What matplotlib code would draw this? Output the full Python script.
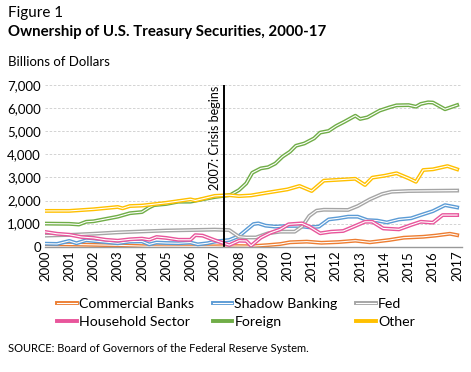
import matplotlib
matplotlib.use("Agg")
import matplotlib.pyplot as plt
import matplotlib.patheffects as pe
from matplotlib.lines import Line2D

plt.rcParams['font.family'] = ['Lato', 'DejaVu Sans']

# data (billions of dollars)
bank_x = [2000, 2001, 2002, 2003, 2004.3, 2005, 2006, 2007, 2007.6, 2008.5, 2009.2, 2009.7, 2010.1,
          2010.8, 2011.4, 2012.1, 2012.8, 2013.4, 2014.2, 2014.8, 2015.6, 2016.1, 2016.7, 2017]
bank_y = [110, 100, 80, 60, 15, 20, 15, 15, 30, 20, 70, 115, 190,
          220, 170, 200, 260, 190, 290, 390, 430, 480, 560, 500]

shadow_x = [2000, 2000.5, 2001, 2001.3, 2001.7, 2002, 2002.5, 2003, 2003.5, 2004, 2004.3, 2004.6,
            2005, 2005.5, 2006, 2006.3, 2006.7, 2007, 2007.6, 2008, 2008.6, 2008.8, 2009.1, 2009.5,
            2010, 2010.4, 2010.9, 2011.3, 2011.7, 2012.1, 2012.5, 2012.9, 2013.3, 2013.7, 2014.1,
            2014.6, 2015.1, 2015.5, 2016, 2016.5, 2017]
shadow_y = [130, 120, 250, 150, 280, 250, 200, 150, 220, 230, 100, 180,
            160, 150, 180, 100, 150, 220, 290, 460, 980, 1010, 910, 870,
            900, 900, 840, 870, 1180, 1230, 1300, 1300, 1150, 1130, 1050,
            1180, 1230, 1370, 1540, 1800, 1700]

fed_x = [2000, 2001, 2002, 2003, 2004, 2005, 2006, 2007, 2007.6, 2008, 2008.3, 2008.7, 2009.2,
         2009.7, 2010.3, 2010.6, 2010.9, 2011.2, 2011.5, 2012.5, 2012.9, 2013.4, 2013.9, 2014.3,
         2015, 2016, 2017]
fed_y = [480, 510, 560, 620, 660, 700, 720, 740, 720, 430, 400, 400, 580,
         650, 650, 870, 1330, 1560, 1600, 1590, 1760, 2050, 2280, 2380,
         2410, 2420, 2430]

house_x = [2000, 2000.5, 2001, 2001.5, 2002, 2002.5, 2003, 2003.5, 2004, 2004.3, 2004.6, 2005,
           2005.5, 2006, 2006.2, 2006.5, 2007, 2007.6, 2008, 2008.3, 2008.5, 2008.9, 2009.3,
           2009.7, 2010.05, 2010.6, 2010.9, 2011.35, 2011.8, 2012.3, 2012.8, 2013.2, 2013.5,
           2013.95, 2014.6, 2015.1, 2015.5, 2016, 2016.4, 2017]
house_y = [640, 560, 520, 420, 380, 300, 260, 320, 350, 300, 420, 380,
           300, 300, 500, 480, 280, 70, 260, 250, 40, 390, 600,
           750, 970, 1010, 870, 580, 650, 680, 900, 1080, 1080,
           790, 750, 940, 1080, 1040, 1370, 1370]

foreign_x = [2000, 2001, 2001.4, 2001.7, 2002, 2002.5, 2003, 2003.5, 2004, 2004.3, 2004.5, 2005,
             2005.5, 2006, 2006.5, 2007, 2007.65, 2008, 2008.3, 2008.55, 2008.9, 2009.2, 2009.5,
             2009.8, 2010.1, 2010.35, 2010.7, 2011.1, 2011.35, 2011.7, 2012, 2012.35, 2012.8,
             2013, 2013.3, 2013.8, 2014.2, 2014.5, 2015, 2015.3, 2015.5, 2015.8, 2016, 2016.5, 2017]
foreign_y = [1000, 990, 960, 1080, 1100, 1200, 1300, 1450, 1500, 1700, 1800, 1850,
             1950, 1950, 2050, 2150, 2240, 2450, 2740, 3200, 3390, 3440, 3600,
             3900, 4110, 4370, 4470, 4690, 4940, 5010, 5220, 5410, 5670,
             5530, 5600, 5890, 6030, 6120, 6130, 6060, 6180, 6250, 6240, 5950, 6130]

other_x = [2000, 2001, 2002, 2003, 2003.2, 2003.5, 2004, 2005, 2006, 2006.2, 2007, 2007.6, 2008,
           2008.5, 2009, 2010, 2010.5, 2011, 2011.5, 2012, 2012.8, 2013.2, 2013.5, 2014, 2014.5,
           2015, 2015.3, 2015.6, 2016, 2016.6, 2017]
other_y = [1550, 1550, 1620, 1720, 1660, 1760, 1780, 1900, 2050, 2000, 2200, 2230, 2190,
           2220, 2310, 2480, 2630, 2410, 2860, 2890, 2940, 2670, 2990, 3070, 3180,
           2960, 2810, 3320, 3350, 3490, 3350]

names = ["Commercial Banks", "Shadow Banking", "Fed", "Household Sector", "Foreign", "Other"]
colors = ["#ED7D31", "#5B9BD5", "#A5A5A5", "#E8559B", "#70AD47", "#FFC000"]
series = [(bank_x, bank_y), (shadow_x, shadow_y), (fed_x, fed_y),
          (house_x, house_y), (foreign_x, foreign_y), (other_x, other_y)]
years = list(range(2000, 2018))
crisis = 2007.4

fig = plt.figure(figsize=(4.71, 3.72), dpi=100)
ax = fig.add_axes([45 / 471, 1 - 246.7 / 372, 417 / 471, 161.7 / 372])

for (xs, ys), c in zip(series, colors):
    ax.plot(xs, ys, color="white", lw=0.8,
            path_effects=[pe.Stroke(linewidth=2.8, foreground=c), pe.Normal()])

ax.axvline(crisis, ymin=0, ymax=1, color="black", lw=1.4)
ax.text(crisis - 0.12, 6950, "2007: Crisis begins", rotation=90, ha="right", va="top",
        fontsize=9)

ax.set_xlim(2000, 2017.2)
ax.set_ylim(0, 7000)
ax.set_yticks(range(0, 7001, 1000))
ax.set_yticklabels([f"{v:,}" for v in range(0, 7001, 1000)], fontsize=9.5)
ax.set_xticks(years)
ax.set_xticklabels([str(y) for y in years], rotation=90, fontsize=9.5)
ax.tick_params(length=0, pad=3)
ax.yaxis.grid(True, ls=(0, (3, 2)), color="#cccccc", lw=0.6)
ax.set_axisbelow(True)
for s in ["top", "right", "left"]:
    ax.spines[s].set_visible(False)
ax.spines["bottom"].set_color("#999999")
ax.spines["bottom"].set_linewidth(1.0)

handles = []
for i, c in enumerate(colors):
    if i < 3:
        handles.append(Line2D([], [], color="white", lw=0.8,
                              path_effects=[pe.Stroke(linewidth=2.8, foreground=c), pe.Normal()]))
    else:
        handles.append(Line2D([], [], color=c, lw=2.8))
# reorder for row-major fill with ncol=3
order = [0, 3, 1, 4, 2, 5]
fig.legend([handles[i] for i in order], [names[i] for i in order], ncol=3,
           loc="center", bbox_to_anchor=(236 / 471, 1 - 313 / 372), frameon=False, fontsize=10.2,
           handlelength=1.4, handletextpad=0.15, columnspacing=1.3, labelspacing=0.4,
           borderaxespad=0, borderpad=0)

fig.text(8 / 471, 1 - 13 / 372, "Figure 1", fontsize=11, va="center", ha="left")
fig.text(8 / 471, 1 - 32 / 372, "Ownership of U.S. Treasury Securities, 2000-17",
         fontsize=10.8, fontweight="bold", va="center", ha="left")
fig.text(8 / 471, 1 - 62 / 372, "Billions of Dollars", fontsize=9.5, va="center", ha="left")
fig.text(8 / 471, 1 - 348 / 372, "SOURCE: Board of Governors of the Federal Reserve System.",
         fontsize=8, va="center", ha="left")

fig.savefig("out.png", dpi=100)
